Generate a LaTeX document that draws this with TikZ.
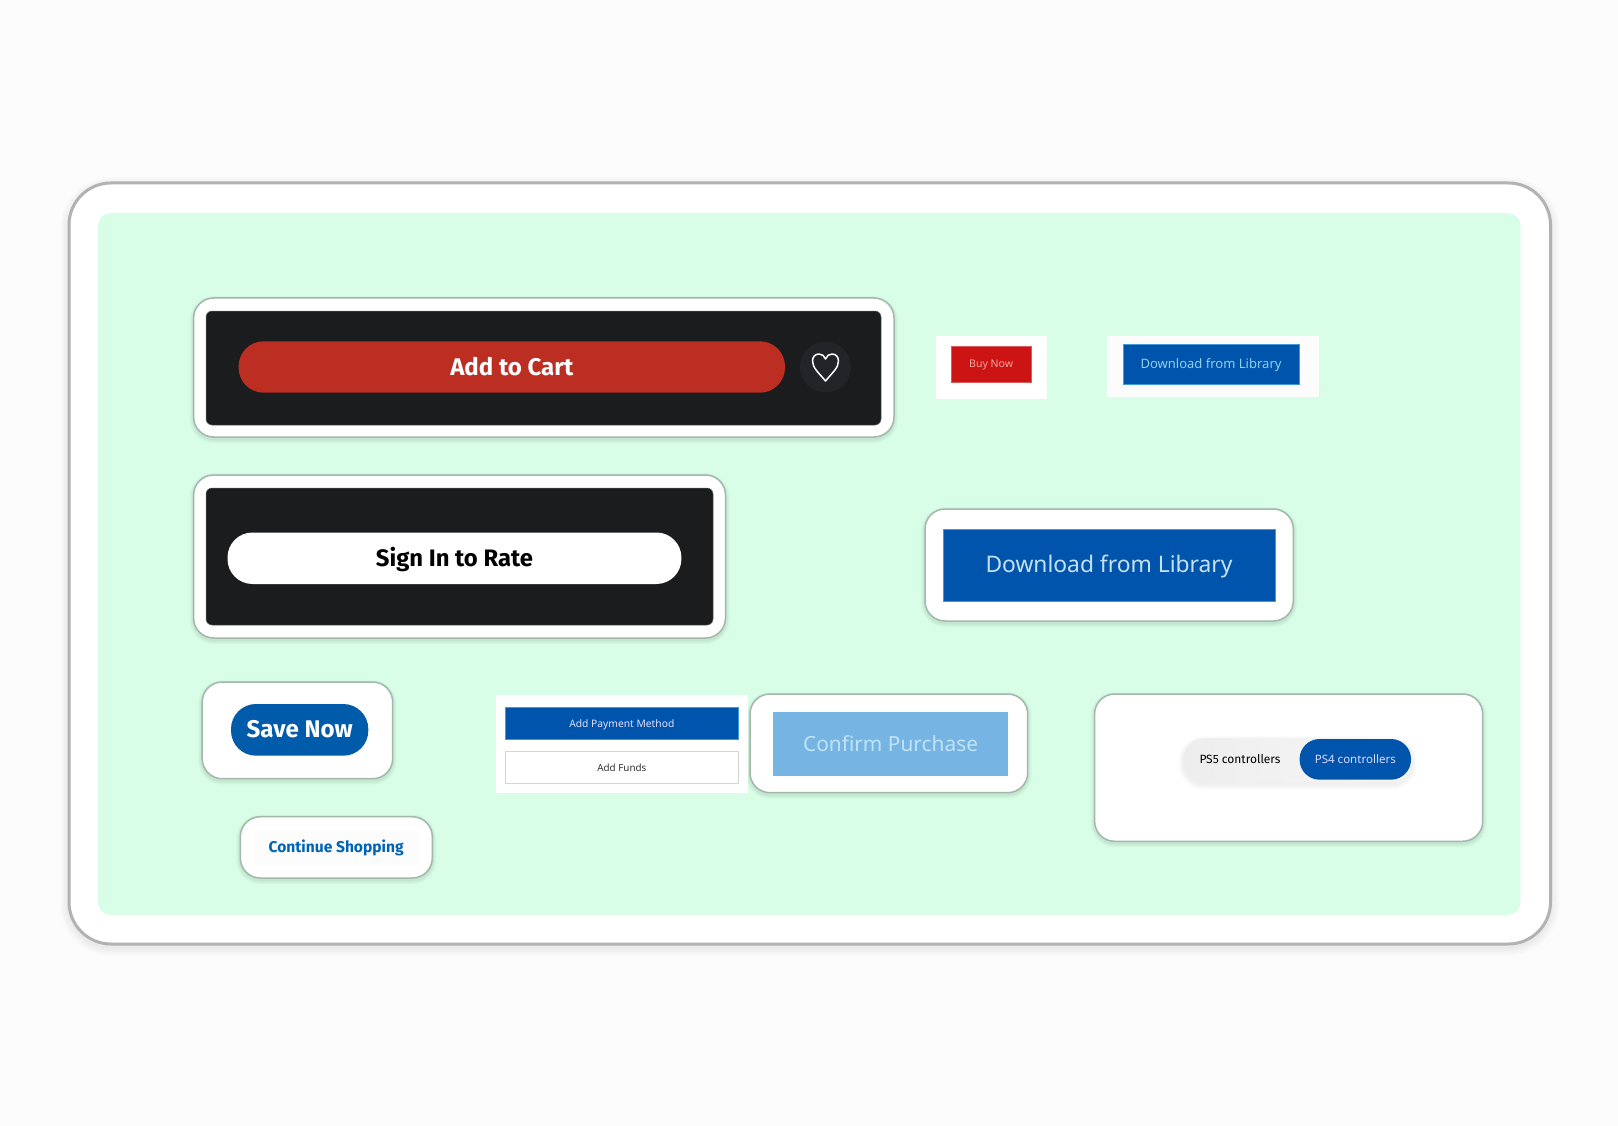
\documentclass[tikz,border=0pt]{standalone}
\usepackage{graphicx}
\usepackage{fontspec}
\setmainfont{Noto Sans}
\newfontfamily\hv{Fira Sans}
\definecolor{pagebg}{HTML}{FCFCFC}
\definecolor{framegray}{HTML}{B2B2B2}
\definecolor{mint}{HTML}{D8FEE8}
\definecolor{cardedge}{HTML}{A3B8AB}
\definecolor{panel}{HTML}{1B1C1E}
\definecolor{cartred}{HTML}{BD2E22}
\definecolor{heartbg}{HTML}{232427}
\definecolor{buyred}{HTML}{CC1414}
\definecolor{buytext}{HTML}{EDA8A0}
\definecolor{psblue}{HTML}{0054AC}
\definecolor{saveblue}{HTML}{005BAB}
\definecolor{linkblue}{HTML}{0063B5}
\definecolor{blueedge}{HTML}{3F9BD8}
\definecolor{dltext}{HTML}{8FD0EA}
\definecolor{dlbig}{HTML}{C5E2F3}
\definecolor{soft}{HTML}{75B4E3}
\definecolor{softtext}{HTML}{C0E4F5}
\definecolor{fundedge}{HTML}{D5D5D5}
\tikzset{
  x=1pt,y=-1pt,
  flat/.style={draw=none,rectangle,inner sep=0pt,outer sep=0pt},
  card/.style={flat,draw=cardedge,line width=1.5pt,fill=white,rounded corners=20pt},
  darkpanel/.style={flat,fill=panel,draw=panel!70!white,line width=.5pt,rounded corners=6pt},
  bluebtn/.style={flat,fill=psblue,draw=blueedge,line width=.8pt}
}
% style, name, x1, y1, x2, y2, content
\newcommand{\bx}[7]{%
  \pgfmathsetmacro{\bxw}{#5-#3}\pgfmathsetmacro{\bxh}{#6-#4}%
  \pgfmathsetmacro{\bxx}{(#5+#3)/2}\pgfmathsetmacro{\bxy}{(#6+#4)/2}%
  \node[#1,minimum width=\bxw pt,minimum height=\bxh pt] (#2) at (\bxx,\bxy) {#7};}
% text fitted to a width in px; the optional depth raises it by half of that
\newcommand{\fit}[4][0pt]{\raisebox{0pt}[\height][#1]{\resizebox{#2pt}{!}{\fontsize{20pt}{24pt}\selectfont #3#4}}}
% blurred shadow: x1, y1, x2, y2, radius, spread, opacity, y shift
\newcommand{\softshadow}[8]{%
  \foreach \sh in {1,...,#6}{%
    \fill[black,opacity=#7,rounded corners=#5pt+\sh pt]
      (#1-\sh,#2-\sh+#8) rectangle (#3+\sh,#4+\sh+#8);}}
\begin{document}
\begin{tikzpicture}
\useasboundingbox (0,0) rectangle (1618,1126);
\fill[pagebg] (0,0) rectangle (1618,1126);
% outer frame
\softshadow{69}{183}{1550.5}{944}{42}{9}{.006}{3}
\bx{flat,fill=white,draw=framegray,line width=3pt,rounded corners=42pt}{frame}{69}{183}{1550.5}{944}{}
\bx{flat,fill=mint,rounded corners=13pt}{mintpanel}{98}{213}{1520.5}{915}{}
% card shadows
\softshadow{193.6}{298}{894}{437}{20}{4}{.025}{2}
\softshadow{193.6}{475}{725.5}{638}{20}{4}{.025}{2}
\softshadow{925}{509}{1293.3}{621}{20}{4}{.025}{2}
\softshadow{202.2}{682}{392.7}{778.7}{20}{4}{.025}{2}
\softshadow{240.3}{816.7}{432.3}{878}{20}{4}{.025}{2}
\softshadow{750}{694}{1027.7}{792.7}{20}{4}{.025}{2}
\softshadow{1094.6}{694}{1482.7}{841.3}{20}{4}{.025}{2}
% add to cart
\bx{card}{cartcard}{193.6}{298}{894}{437}{}
\bx{darkpanel}{cartpanel}{206}{311}{881}{425}{}
\bx{flat,fill=cartred,rounded corners=25pt}{cartbtn}{238.6}{341.3}{785}{392.7}{\fit[2pt]{123}{\hv\bfseries\color{white}}{Add to Cart}}
\bx{flat,circle,fill=heartbg}{heartbtn}{800}{341.5}{851}{392.5}{}
\draw[white,line width=1.5pt,line join=round]
  (825.5,381) .. controls (819,373) and (812.5,368) .. (812.5,361)
  .. controls (812.5,356.5) and (815.5,354) .. (819,354)
  .. controls (822,354) and (824.5,356) .. (825.5,359)
  .. controls (826.5,356) and (829,354) .. (832,354)
  .. controls (835.5,354) and (838.5,356.5) .. (838.5,361)
  .. controls (838.5,368) and (832,373) .. (825.5,381) -- cycle;
% buy now
\bx{flat,fill=white}{buycard}{935.7}{335.7}{1046.7}{399}{}
\bx{flat,fill=buyred,draw=buyred!70!white,line width=.6pt}{buybtn}{951}{346}{1031.3}{382}{\fit{44}{\color{buytext}}{Buy Now}}
% download small
\bx{flat,fill=pagebg}{dlsmallcard}{1107}{335.7}{1319}{397}{}
\bx{bluebtn}{dlsmall}{1123}{344.8}{1299}{384}{\fit[2pt]{141}{\color{dltext}}{Download from Library}}
% sign in
\bx{card}{signcard}{193.6}{475}{725.5}{638}{}
\bx{darkpanel}{signpanel}{206}{488}{713}{625}{}
\bx{flat,fill=white,rounded corners=25pt}{signbtn}{227.5}{532.5}{681.4}{584}{\fit[2pt]{157}{\hv\bfseries\color{black}}{Sign In to Rate}}
% download large
\bx{card}{dlbigcard}{925}{509}{1293.3}{621}{}
\bx{bluebtn}{dlbig}{943}{529.5}{1275}{601.5}{\fit[4pt]{247}{\color{dlbig}}{Download from Library}}
% save now
\bx{card}{savecard}{202.2}{682}{392.7}{778.7}{}
\bx{flat,fill=saveblue,rounded corners=25pt}{savebtn}{231}{704}{368.3}{755.7}{\fit[2pt]{106}{\hv\bfseries\color{white}}{Save Now}}
% continue shopping
\bx{card}{contcard}{240.3}{816.7}{432.3}{878}{}
\bx{flat,fill=pagebg,rounded corners=3pt}{contbtn}{253}{831}{419.4}{865}{\fit[4pt]{135}{\hv\bfseries\color{linkblue}}{Continue Shopping}}
% payment
\bx{flat,fill=white}{paycard}{496}{695}{748.3}{793}{}
\bx{bluebtn}{paybtn}{505}{707.5}{738.7}{739.3}{\fit{105}{\color{white!88!blue}}{Add Payment Method}}
\bx{flat,fill=white,draw=fundedge,line width=1pt}{fundbtn}{505}{751.5}{738.7}{783.3}{\fit{49}{\color{black!80}}{Add Funds}}
% confirm
\bx{card}{confcard}{750}{694}{1027.7}{792.7}{}
\bx{flat,fill=soft}{confbtn}{772.8}{711.5}{1008.3}{776}{\fit{175}{\color{softtext}}{Confirm Purchase}}
% PS toggle
\bx{card}{ctrlcard}{1094.6}{694}{1482.7}{841.3}{}
\softshadow{1183.5}{738}{1412}{781.7}{21}{5}{.012}{3}
\bx{flat,left color=black!7,right color=black!3,rounded corners=21pt}{toggle}{1183.5}{738}{1412}{781.7}{}
\bx{flat,fill=psblue,rounded corners=20pt}{ps4}{1299.6}{739}{1411}{779.7}{\fit{81}{\color{white!85!blue}}{PS4 controllers}}
\node[flat] (ps5) at (1240,759.3) {\fit{81}{\hv\color{black}}{PS5 controllers}};
\end{tikzpicture}
\end{document}
